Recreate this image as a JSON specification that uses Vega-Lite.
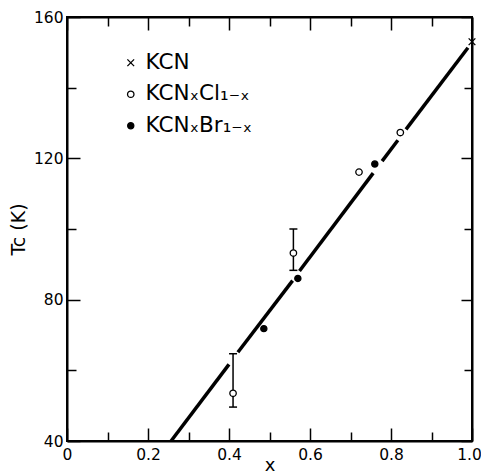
{
  "$schema": "https://vega.github.io/schema/vega-lite/v6.json",
  "width": 405,
  "height": 424,
  "autosize": {"type": "none"},
  "padding": {"left": 67, "top": 17, "right": 9, "bottom": 33},
  "background": "white",
  "config": {
    "view": {"stroke": "black", "strokeWidth": 2},
    "font": "DejaVu Sans",
    "axis": {
      "domainColor": "black", "domainWidth": 2,
      "tickColor": "black", "tickWidth": 1.5,
      "labelColor": "black", "labelFont": "DejaVu Sans", "labelFontSize": 15.5,
      "labelFlush": false, "labelOverlap": false, "labelBound": false,
      "grid": false,
      "titleFont": "DejaVu Sans", "titleColor": "black", "titleFontWeight": "normal"
    },
    "legend": {
      "labelFont": "DejaVu Sans", "labelFontSize": 21.5, "labelColor": "black",
      "symbolStrokeColor": "black", "symbolStrokeWidth": 1.3, "symbolOpacity": 1,
      "padding": 0, "rowPadding": 8.5, "labelOffset": 4
    }
  },
  "datasets": {
    "pts": [
      {"x": 1.0, "y": 153, "series": "KCN"},
      {"x": 0.41, "y": 53.5, "series": "KCNₓCl₁₋ₓ"},
      {"x": 0.559, "y": 93.2, "series": "KCNₓCl₁₋ₓ"},
      {"x": 0.721, "y": 116.1, "series": "KCNₓCl₁₋ₓ"},
      {"x": 0.823, "y": 127.3, "series": "KCNₓCl₁₋ₓ"},
      {"x": 0.486, "y": 71.8, "series": "KCNₓBr₁₋ₓ"},
      {"x": 0.57, "y": 86.0, "series": "KCNₓBr₁₋ₓ"},
      {"x": 0.76, "y": 118.4, "series": "KCNₓBr₁₋ₓ"}
    ],
    "line": [
      {"x": 0.257, "y": 40, "seg": 1},
      {"x": 0.4, "y": 61.7, "seg": 1},
      {"x": 0.422, "y": 65.1, "seg": 2},
      {"x": 0.557, "y": 85.4, "seg": 2},
      {"x": 0.574, "y": 88.1, "seg": 3},
      {"x": 0.756, "y": 115.8, "seg": 3},
      {"x": 0.778, "y": 119.2, "seg": 4},
      {"x": 0.817, "y": 125.1, "seg": 4},
      {"x": 0.837, "y": 128.2, "seg": 5},
      {"x": 0.99, "y": 151.3, "seg": 5}
    ],
    "err": [
      {"x": 0.41, "lo": 49.6, "hi": 64.7},
      {"x": 0.559, "lo": 88.3, "hi": 100}
    ]
  },
  "layer": [
    {
      "data": {"name": "line"},
      "mark": {"type": "line", "stroke": "black", "strokeWidth": 3.5, "strokeCap": "butt"},
      "encoding": {
        "x": {"field": "x", "type": "quantitative",
          "scale": {"domain": [0, 1], "nice": false, "zero": false},
          "axis": {"orient": "bottom",
            "values": [0, 0.1, 0.2, 0.3, 0.4, 0.5, 0.6, 0.7, 0.8, 0.9, 1.0],
            "labelExpr": "round(datum.value*10) % 2 == 0 ? (datum.value == 0 ? '0' : format(datum.value, '.1f')) : ''",
            "tickSize": {"condition": {"test": "round(datum.value*10) % 2 == 0", "value": -13}, "value": -9},
            "labelOffset": {"condition": {"test": "datum.value == 1", "value": -3}, "value": 0},
            "labelPadding": 19,
            "title": "x", "titleFontSize": 18, "titleBaseline": "alphabetic", "titleY": 29}},
        "y": {"field": "y", "type": "quantitative",
          "scale": {"domain": [40, 160], "nice": false, "zero": false},
          "axis": {"orient": "left",
            "values": [40, 60, 80, 100, 120, 140, 160],
            "labelExpr": "datum.value % 40 == 0 ? datum.label : ''",
            "tickSize": {"condition": {"test": "datum.value % 40 == 0", "value": -13}, "value": -9},
            "labelPadding": 17,
            "title": "Tc (K)", "titleFontSize": 19, "titlePadding": 5}},
        "detail": {"field": "seg", "type": "nominal"}
      }
    },
    {
      "data": {"name": "err"},
      "mark": {"type": "rule", "stroke": "black", "strokeWidth": 1.5},
      "encoding": {
        "x": {"field": "x", "type": "quantitative", "axis": null},
        "y": {"field": "lo", "type": "quantitative", "axis": null},
        "y2": {"field": "hi"}
      }
    },
    {
      "data": {"name": "err"},
      "mark": {"type": "tick", "orient": "horizontal", "size": 8, "thickness": 1.5, "color": "black", "opacity": 1},
      "encoding": {
        "x": {"field": "x", "type": "quantitative", "axis": null},
        "y": {"field": "lo", "type": "quantitative", "axis": null}
      }
    },
    {
      "data": {"name": "err"},
      "mark": {"type": "tick", "orient": "horizontal", "size": 8, "thickness": 1.5, "color": "black", "opacity": 1},
      "encoding": {
        "x": {"field": "x", "type": "quantitative", "axis": null},
        "y": {"field": "hi", "type": "quantitative", "axis": null}
      }
    },
    {
      "data": {"name": "pts"},
      "mark": {"type": "point", "strokeWidth": 1.3, "opacity": 1},
      "encoding": {
        "x": {"field": "x", "type": "quantitative", "axis": null},
        "y": {"field": "y", "type": "quantitative", "axis": null},
        "shape": {"field": "series", "type": "nominal",
          "scale": {"domain": ["KCN", "KCNₓCl₁₋ₓ", "KCNₓBr₁₋ₓ"], "range": ["M-1,-1L1,1M-1,1L1,-1", "circle", "circle"]},
          "legend": {"orient": "none", "legendX": 53, "legendY": 35, "title": null}},
        "fill": {"field": "series", "type": "nominal",
          "scale": {"domain": ["KCN", "KCNₓCl₁₋ₓ", "KCNₓBr₁₋ₓ"], "range": ["white", "white", "black"]},
          "legend": {"orient": "none", "legendX": 53, "legendY": 35, "title": null}},
        "stroke": {"field": "series", "type": "nominal",
          "scale": {"domain": ["KCN", "KCNₓCl₁₋ₓ", "KCNₓBr₁₋ₓ"], "range": ["black", "black", "black"]},
          "legend": {"orient": "none", "legendX": 53, "legendY": 35, "title": null}},
        "size": {"field": "series", "type": "nominal",
          "scale": {"domain": ["KCN", "KCNₓCl₁₋ₓ", "KCNₓBr₁₋ₓ"], "range": [45, 38, 60]},
          "legend": {"orient": "none", "legendX": 53, "legendY": 35, "title": null}}
      }
    },
    {
      "data": {"name": "line"},
      "mark": {"type": "point", "opacity": 0},
      "encoding": {
        "x": {"field": "x", "type": "quantitative",
          "axis": {"orient": "top",
            "values": [0, 0.1, 0.2, 0.3, 0.4, 0.5, 0.6, 0.7, 0.8, 0.9, 1.0],
            "labels": false, "title": null,
            "tickSize": {"condition": {"test": "round(datum.value*10) % 2 == 0", "value": -13}, "value": -9}}},
        "y": {"field": "y", "type": "quantitative",
          "axis": {"orient": "right",
            "values": [40, 60, 80, 100, 120, 140, 160],
            "labels": false, "title": null,
            "tickSize": {"condition": {"test": "datum.value % 40 == 0", "value": -11}, "value": -8}}}
      }
    }
  ],
  "resolve": {"axis": {"x": "independent", "y": "independent"}}
}
